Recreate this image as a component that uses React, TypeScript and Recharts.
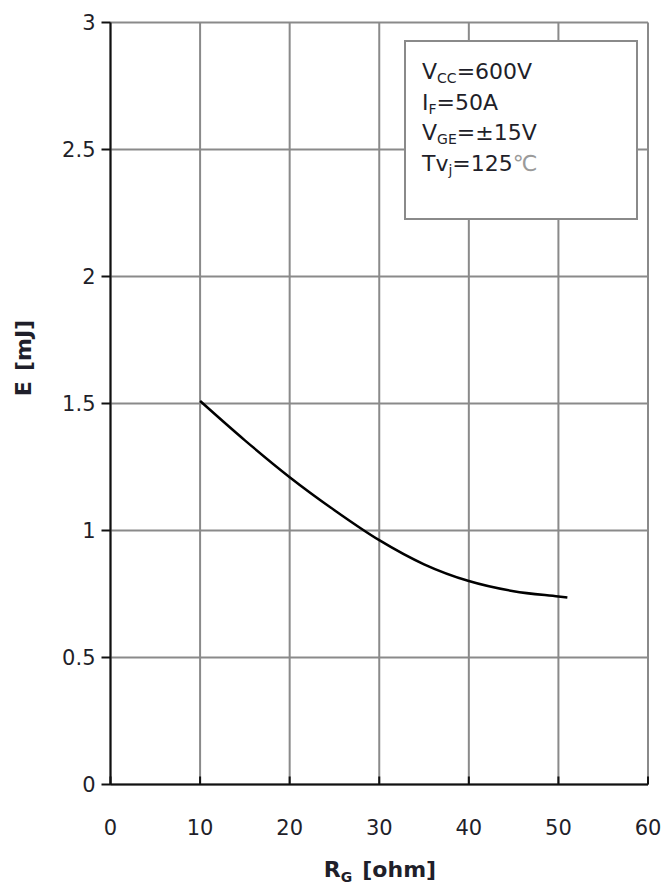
import { CartesianGrid, Label, Line, LineChart, XAxis, YAxis } from 'recharts'

const rg = [10, 15, 20, 25, 30, 35, 40, 45, 50, 51]
const energy = [1.51, 1.355, 1.21, 1.08, 0.962, 0.867, 0.801, 0.761, 0.74, 0.736]
const xTicks = [0, 10, 20, 30, 40, 50, 60]
const yTicks = [0, 0.5, 1, 1.5, 2, 2.5, 3]

const rows = rg.map((x, i) => ({ rg: x, e: energy[i] }))

const FONT = '"DejaVu Sans", Verdana, sans-serif'
const TEXT = '#1f1f2a'
const MARGIN = 36

function XTick(props: any) {
  const { x, y, payload } = props
  const axisY = y - MARGIN
  return (
    <g>
      <line x1={x} x2={x} y1={axisY} y2={axisY - 8} stroke="#111" strokeWidth={2} />
      <text x={x} y={y} dy="0.71em" textAnchor="middle" fontSize={21} fontFamily={FONT} fill={TEXT}>
        {payload.value}
      </text>
    </g>
  )
}

function XTitle() {
  return (
    <text x={380} y={877} textAnchor="middle" fontSize={22} fontWeight="bold" fontFamily={FONT} fill={TEXT}>
      R
      <tspan fontSize={14} dy={5}>G</tspan>
      <tspan dx={10} dy={-5}>[ohm]</tspan>
    </text>
  )
}

function YTitle() {
  return (
    <text
      x={23}
      y={358}
      transform="rotate(-90 23 358)"
      textAnchor="middle"
      dominantBaseline="central"
      fontSize={22}
      fontWeight="bold"
      fontFamily={FONT}
      fill={TEXT}
    >
      E<tspan dx={10}>[mJ]</tspan>
    </text>
  )
}

const sub = { fontSize: 14, verticalAlign: 'baseline', position: 'relative' as const, top: 4 }

export default function App() {
  return (
    <div style={{ position: 'absolute', left: 0, top: 0, width: 663, height: 890, background: '#fff' }}>
      <LineChart width={663} height={890} data={rows} margin={{ top: 22.5, right: 15, left: 50.5, bottom: 45.5 }}>
        <CartesianGrid stroke="#8a8a8a" strokeWidth={2} />
        <XAxis
          dataKey="rg"
          type="number"
          domain={[0, 60]}
          ticks={xTicks}
          height={60}
          stroke="#111"
          strokeWidth={2}
          tickLine={false}
          tickSize={0}
          tickMargin={MARGIN}
          tick={<XTick />}
          interval={0}
        >
          <Label content={<XTitle />} />
        </XAxis>
        <YAxis
          type="number"
          domain={[0, 3]}
          ticks={yTicks}
          width={60}
          stroke="#111"
          strokeWidth={2}
          tickSize={9}
          tickMargin={6}
          interval={0}
          tick={{ fontSize: 21, fontFamily: FONT, fill: TEXT }}
        >
          <Label content={<YTitle />} />
        </YAxis>
        <Line
          dataKey="e"
          type="monotone"
          stroke="#000"
          strokeWidth={2.5}
          dot={false}
          isAnimationActive={false}
        />
      </LineChart>
      <div
        style={{
          position: 'absolute',
          left: 404,
          top: 40,
          width: 234,
          height: 180,
          boxSizing: 'border-box',
          border: '2px solid #8a8a8a',
          background: '#fff',
          fontFamily: FONT,
          fontSize: 22,
          color: TEXT,
          lineHeight: '28.5px',
          padding: '16px 0 0 16px',
        }}
      >
        <div>
          V<span style={sub}>CC</span>=600V
        </div>
        <div>
          I<span style={sub}>F</span>=50A
        </div>
        <div>
          V<span style={sub}>GE</span>=±15V
        </div>
        <div>
          Tv<span style={sub}>j</span>=125<span style={{ color: '#9a9a9a' }}>℃</span>
        </div>
      </div>
    </div>
  )
}
